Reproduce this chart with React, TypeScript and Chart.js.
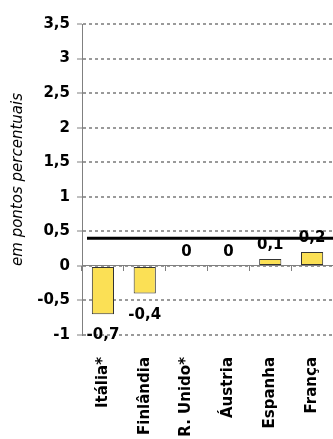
import React, { useEffect, useRef } from "react";
import { Chart, registerables } from "chart.js";

Chart.register(...registerables);

const CATEGORIES = ["Itália*", "Finlândia", "R. Unido*", "Áustria", "Espanha", "França"];
const VALUES = [-0.7, -0.4, 0, 0, 0.1, 0.2];
const REFERENCE_LINE = 0.4;
const Y_MIN = -1;
const Y_MAX = 3.5;
const Y_STEP = 0.5;
const Y_TITLE = "em pontos percentuais";

const fmt = (v: number) => String(v).replace(".", ",");

const refLinePlugin = {
  id: "refLine",
  afterDatasetsDraw(chart: any) {
    const { ctx, chartArea, scales } = chart;
    const y = scales.y.getPixelForValue(REFERENCE_LINE);
    ctx.save();
    ctx.strokeStyle = "#000";
    ctx.lineWidth = 3;
    ctx.beginPath();
    ctx.moveTo(chartArea.left + 5, y);
    ctx.lineTo(chartArea.right, y);
    ctx.stroke();
    ctx.restore();
  },
};

const labelPlugin = {
  id: "valueLabels",
  afterDraw(chart: any) {
    const { ctx } = chart;
    const meta = chart.getDatasetMeta(0);
    ctx.save();
    ctx.font = "bold 15px 'DejaVu Sans'";
    ctx.fillStyle = "#000";
    ctx.textAlign = "center";
    ctx.textBaseline = "alphabetic";
    meta.data.forEach((bar: any, i: number) => {
      const v = VALUES[i];
      const y = v < 0 ? bar.y + 25 : bar.y - 10;
      ctx.fillText(fmt(v), bar.x, y);
    });
    ctx.restore();
  },
};

export default function App() {
  const ref = useRef<HTMLCanvasElement>(null);
  useEffect(() => {
    if (!ref.current) return;
    const chart = new Chart(ref.current, {
      type: "bar",
      data: {
        labels: CATEGORIES,
        datasets: [
          {
            data: VALUES,
            backgroundColor: "#FBE055",
            borderColor: "#333333",
            borderWidth: (c: any) => (VALUES[c.dataIndex] === 0 ? 0 : 1),
            borderSkipped: false,
            categoryPercentage: 1,
            barPercentage: 0.53,
            xAxisID: "x",
            yAxisID: "y",
          } as any,
        ],
      },
      options: {
        responsive: false,
        animation: false,
        layout: { padding: { top: 24, right: 0, bottom: 0, left: 0 } },
        plugins: { legend: { display: false }, tooltip: { enabled: false } },
        scales: {
          y: {
            min: Y_MIN,
            max: Y_MAX,
            ticks: {
              stepSize: Y_STEP,
              callback: (v: any) => fmt(Number(v)),
              font: { family: "'DejaVu Sans'", size: 15, weight: "bold" },
              color: "#000",
              padding: 7,
            },
            grid: {
              color: "#9a9a9a",
              lineWidth: 2,
              tickColor: "#808080",
              tickWidth: 1,
              tickLength: 5,
              tickBorderDash: [],
            },
            border: { color: "#808080", width: 1, dash: [3, 3] },
            title: {
              display: true,
              text: Y_TITLE,
              font: { family: "'DejaVu Sans'", size: 15, style: "italic", weight: "normal" },
              color: "#000",
              padding: { top: 9, bottom: 4 },
            },
            afterFit: (s: any) => {
              s.width = 82;
            },
          },
          x: {
            type: "category",
            position: { y: 0 } as any,
            ticks: { display: false },
            grid: {
              display: true,
              drawOnChartArea: false,
              drawTicks: true,
              tickLength: 5,
              tickColor: "#808080",
              offset: true,
            },
            border: { display: true, color: "#808080", width: 1 },
            afterFit: (s: any) => {
              s.paddingLeft = 0;
              s.paddingRight = 0;
            },
          },
          x2: {
            type: "category",
            position: "bottom",
            grid: { display: false },
            border: { display: false },
            ticks: {
              autoSkip: false,
              minRotation: 90,
              maxRotation: 90,
              padding: 14,
              color: "#000",
              font: { family: "'DejaVu Sans'", size: 15, weight: "bold" },
            },
            afterFit: (s: any) => {
              s.height = 104;
              s.paddingLeft = 0;
              s.paddingRight = 0;
            },
          },
        } as any,
      },
      plugins: [refLinePlugin, labelPlugin],
    });
    return () => chart.destroy();
  }, []);
  return (
    <div style={{ position: "absolute", left: 0, top: 0, width: 333, height: 439, overflow: "hidden" }}>
      <canvas ref={ref} width={333} height={439} style={{ display: "block" }} />
    </div>
  );
}
